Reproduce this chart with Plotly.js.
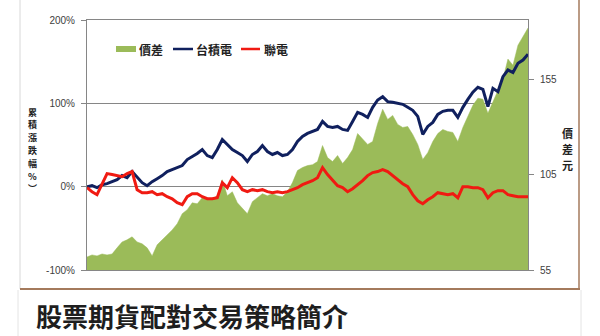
<!DOCTYPE html>
<html>
<head>
<meta charset="utf-8">
<script src="https://cdn.plot.ly/plotly-3.0.1.min.js"></script>
<style>
  html, body { margin: 0; padding: 0; background: #ffffff; }
  #chart { width: 600px; height: 336px; }
</style>
</head>
<body>
<div id="chart"></div>
<script>
// ---- data ----
const seriesNames = ["價差", "台積電", "聯電"];
const leftTicks = [-100, 0, 100, 200];
const rightTicks = [55, 105, 155];
const leftTitleChars = ["累", "積", "漲", "跌", "幅", "%", "︶"];
const rightTitleChars = ["價", "差", "元"];

// 台積電 cumulative change (%)
const tsmc = [0, 1.2, -1.2, 2.4, 3.6, 6.0, 8.4, 13.3, 10.8, 18.1,
  10.8, 4.8, 1.2, 6.0, 9.6, 13.3, 18.1, 20.5, 22.9, 25.3,
  32.5, 36.1, 39.8, 44.6, 37.3, 34.9, 44.6, 56.6, 50.6, 44.6,
  41.0, 37.3, 30.1, 38.6, 42.2, 49.4, 42.2, 38.6, 41.0, 37.3,
  38.6, 44.6, 54.2, 60.2, 63.9, 66.3, 68.7, 78.3, 72.3, 71.1,
  72.3, 68.7, 67.5, 78.3, 89.2, 86.7, 83.1, 95.2, 104, 108,
  102, 101.2, 100, 98.8, 95.2, 91.6, 84.3, 62.7, 72.3, 77.1,
  86.7, 90.4, 91.6, 91.6, 83.1, 95.2, 104.8, 113.3, 119.3, 116.9,
  96, 118, 114, 132, 140, 137, 148, 152, 159];

// 聯電 cumulative change (%)
const umc = [-1.2, -6, -9.6, 2.4, 15.7, 14.5, 13.3, 12, 15.7, 18.1,
  -3.6, -7.2, -7.2, -6, -9.6, -8.4, -12, -14.5, -19.3, -21.7,
  -12, -8.4, -8.4, -12, -14.5, -14.5, -13.3, 4.8, -1.2, 10.8,
  4.8, -3.6, -6, -3.6, -4.8, -3.6, -6, -7.2, -6, -7.2,
  -6, -3.6, -1.2, 2.4, 4.8, 7.2, 10.8, 22.9, 14.5, 7.2,
  1.2, -1.2, -6, -2.4, 2.4, 7.2, 13.3, 16.9, 18.1, 20.5,
  18.1, 13.3, 8.4, 3.6, 0, -9.6, -16.9, -20.5, -15.7, -12,
  -7.2, -8.4, -9.6, -8.4, -13.3, 0, 0, -1.2, -1.2, -3.6,
  -13.3, -7.2, -4.8, -4.8, -9.6, -10.8, -12, -12, -12];

// 價差 (元)
const spread = [61.8, 62.9, 62.4, 63.4, 62.9, 63.4, 66.6, 69.7, 70.8, 72.4,
  69.7, 68.7, 66.6, 62.4, 68.2, 70.8, 73.4, 76, 79.2, 84.5,
  86.6, 90.2, 89.7, 92.9, 91.8, 92.3, 93.9, 102.3, 93.9, 96,
  90.2, 87.6, 84.5, 90.8, 92.9, 95, 93.9, 95, 93.9, 93.4,
  96, 100.8, 107.1, 108.7, 109.7, 110.2, 111.8, 120.2, 113.9, 111.8,
  115, 110.8, 113.9, 118.1, 126.5, 123.4, 120.8, 122.3, 131.8, 139.2,
  133.9, 136, 131.3, 129.7, 130.2, 126, 120.8, 112.9, 116.5, 122.3,
  126.5, 128.6, 127.6, 127.1, 122.3, 129.7, 136, 141.3, 145, 144.5,
  137.1, 143.4, 149.7, 155, 165.5, 162.3, 172.8, 177, 181.8];

const day = tsmc.map((_, i) => i);

// ---- styles ----
const GREEN = "#9bbb59", NAVY = "#10205e", RED = "#f01a12";
const AXIS = "#868686", TXT = "#404040";
const tickFont = { family: "Liberation Sans, Arial, sans-serif", size: 10, color: TXT };
const cjk = "Noto Sans CJK TC, Noto Sans CJK SC, sans-serif";

const traces = [
  { x: day, y: spread, name: seriesNames[0], type: "scatter", mode: "lines",
    yaxis: "y", fill: "tozeroy", fillcolor: GREEN, line: { color: GREEN, width: 0.5 } },
  { x: day, y: tsmc, name: seriesNames[1], type: "scatter", mode: "lines",
    yaxis: "y2", line: { color: NAVY, width: 3 } },
  { x: day, y: umc, name: seriesNames[2], type: "scatter", mode: "lines",
    yaxis: "y2", line: { color: RED, width: 3 } }
];

// pixel helpers for decorations outside the plot (plot area 87..528 x 20..270)
const px = v => (v - 87) / 441;
const py = v => (270 - v) / 250;

const shapes = [
  // outer frame of picture card
  { type: "line", xref: "paper", yref: "paper", x0: px(20), x1: px(20), y0: py(289), y1: py(-5), line: { color: "#d8d8d8", width: 1 } },
  { type: "line", xref: "paper", yref: "paper", x0: px(20), x1: px(580), y0: py(289), y1: py(289), line: { color: "#a47a5c", width: 2 } },
  { type: "line", xref: "paper", yref: "paper", x0: px(579), x1: px(579), y0: py(289), y1: py(-5), line: { color: "#a47a5c", width: 1.5 } },
  { type: "line", xref: "paper", yref: "paper", x0: px(18), x1: px(18), y0: py(290), y1: py(340), line: { color: "#e4e4e4", width: 1 } },
  { type: "line", xref: "paper", yref: "paper", x0: px(581), x1: px(581), y0: py(290), y1: py(340), line: { color: "#e4e4e4", width: 1 } },
  // legend symbols
  { type: "rect", xref: "paper", yref: "paper", x0: px(116), x1: px(136), y0: py(52), y1: py(46), fillcolor: GREEN, line: { width: 0 } },
  { type: "line", xref: "paper", yref: "paper", x0: px(173), x1: px(193), y0: py(49), y1: py(49), line: { color: NAVY, width: 2.5 } },
  { type: "line", xref: "paper", yref: "paper", x0: px(241), x1: px(260), y0: py(49), y1: py(49), line: { color: RED, width: 2.5 } }
];

const ann = (text, x, y, opts) => Object.assign({
  text: text, xref: "paper", yref: "paper", x: x, y: y, showarrow: false,
  xanchor: "left", yanchor: "middle", font: { family: cjk, size: 12, color: "#222" }
}, opts || {});

const annotations = [
  ann("<b>" + seriesNames[0] + "</b>", px(137), py(49)),
  ann("<b>" + seriesNames[1] + "</b>", px(194), py(49)),
  ann("<b>" + seriesNames[2] + "</b>", px(262), py(49)),
  ann("<b>股票期貨配對交易策略簡介</b>", px(34), py(315),
      { font: { family: cjk, size: 26, color: "#1e1e1e" } })
];
// vertical axis titles, one character per row
leftTitleChars.forEach((c, i) => annotations.push(
  ann("<b>" + c + "</b>", px(32), py(112 + i * 12.8),
      { xanchor: "center", font: { family: cjk, size: 9, color: "#222" } })));
rightTitleChars.forEach((c, i) => annotations.push(
  ann("<b>" + c + "</b>", px(567), py(133 + i * 16),
      { xanchor: "center", font: { family: cjk, size: 11, color: "#222" } })));

const layout = {
  width: 600, height: 336,
  margin: { l: 87, r: 72, t: 20, b: 66, pad: 0 },
  paper_bgcolor: "#ffffff", plot_bgcolor: "#ffffff",
  showlegend: false,
  xaxis: { range: [0, day.length - 1], showgrid: false, zeroline: false, showticklabels: false,
           ticks: "", showline: true, mirror: true, linecolor: AXIS, linewidth: 1 },
  yaxis: { side: "right", range: [55, 186], tickvals: rightTicks, ticktext: rightTicks.map(String),
           showgrid: false, zeroline: false, showline: true, linecolor: AXIS, linewidth: 1,
           ticks: "outside", ticklen: 5, tickcolor: AXIS, tickfont: tickFont, ticklabelstandoff: 4 },
  yaxis2: { side: "left", overlaying: "y", range: [-100, 200], tickvals: leftTicks,
            ticktext: leftTicks.map(v => v + "%"), showgrid: true, gridcolor: AXIS, gridwidth: 1,
            zeroline: false, showline: true, linecolor: AXIS, linewidth: 1,
            ticks: "outside", ticklen: 5, tickcolor: AXIS, tickfont: tickFont, ticklabelstandoff: 4 },
  shapes: shapes,
  annotations: annotations
};

Plotly.newPlot("chart", traces, layout, { staticPlot: true, displayModeBar: false });
</script>
</body>
</html>
